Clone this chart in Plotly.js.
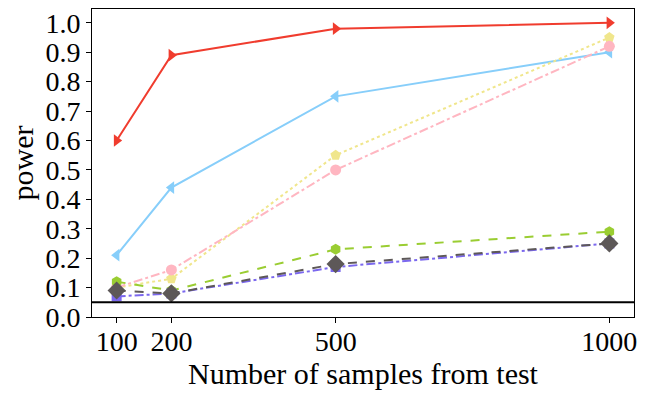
<!DOCTYPE html>
<html>
<head>
<meta charset="utf-8">
<script src="https://cdn.plot.ly/plotly-3.0.1.min.js"></script>
<style>
  body { margin: 0; background: #fff; }
  #graph { width: 649px; height: 397px; }
</style>
</head>
<body>
<div id="graph"></div>
<script>
// sample sizes on the x axis
var samples = [100, 200, 500, 1000];

// power of each test
var powerRed = [0.60, 0.89, 0.98, 1.00];
var powerBlue = [0.21, 0.44, 0.75, 0.90];
var powerKhaki = [0.10, 0.13, 0.55, 0.95];
var powerPink = [0.10, 0.16, 0.50, 0.92];
var powerGreen = [0.12, 0.09, 0.23, 0.29];
var powerPurple = [0.07, 0.08, 0.17, 0.25];
var powerGray = [0.09, 0.08, 0.18, 0.25];

var alphaLevel = 0.05;
var yTicks = [0.0, 0.1, 0.2, 0.3, 0.4, 0.5, 0.6, 0.7, 0.8, 0.9, 1.0];

function makeTrace(y, color, dash, symbol, size) {
  return {
    type: "scatter",
    mode: "lines+markers",
    x: samples,
    y: y,
    line: { color: color, width: 2, dash: dash },
    marker: { color: color, symbol: symbol, size: size },
    showlegend: false,
  };
}

var traces = [
  makeTrace(powerRed, "#f03c2e", "solid", "triangle-right", 11),
  makeTrace(powerBlue, "#87cefa", "solid", "triangle-left", 11),
  makeTrace(powerKhaki, "#f0e68c", "dot", "pentagon", 11),
  makeTrace(powerPink, "#ffb6c1", "dashdot", "circle", 11),
  makeTrace(powerGreen, "#9acd32", "dash", "hexagon", 11),
  makeTrace(powerPurple, "#7b68ee", "dashdot", "square", 10),
  makeTrace(powerGray, "#5d5858", "dash", "diamond", 14),
];

var serif = "Liberation Serif, Times New Roman, serif";

var layout = {
  width: 649,
  height: 397,
  margin: { l: 92, r: 15, t: 9, b: 80 },
  paper_bgcolor: "#fff",
  plot_bgcolor: "#fff",
  font: { family: serif, size: 28, color: "#000" },
  xaxis: {
    range: [55, 1045],
    tickvals: samples,
    ticktext: samples.map(String),
    ticks: "outside",
    ticklen: 5,
    tickcolor: "#000",
    ticklabelstandoff: -6,
    showgrid: false,
    zeroline: false,
    showline: true,
    linecolor: "#000",
    linewidth: 1,
    mirror: true,
    title: { text: "Number of samples from test", font: { family: serif, size: 30 }, standoff: 0 },
  },
  yaxis: {
    range: [0, 1.047],
    tickvals: yTicks,
    ticktext: yTicks.map(function (v) { return v.toFixed(1); }),
    ticks: "outside",
    ticklen: 5,
    tickcolor: "#000",
    showgrid: false,
    zeroline: false,
    showline: true,
    linecolor: "#000",
    linewidth: 1,
    mirror: true,
    title: { text: "power", font: { family: serif, size: 30 }, standoff: 2 },
  },
  shapes: [
    {
      type: "line",
      xref: "paper",
      yref: "y",
      x0: 0,
      x1: 1,
      y0: alphaLevel,
      y1: alphaLevel,
      line: { color: "#000", width: 2 },
    },
  ],
};

Plotly.newPlot("graph", traces, layout, { displayModeBar: false, staticPlot: true });
</script>
</body>
</html>
